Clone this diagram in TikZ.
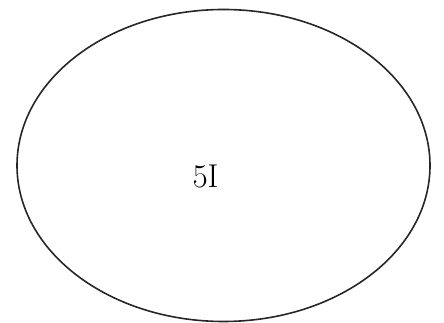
\documentclass[tikz,border=0pt]{standalone}
\usepackage{fontspec}
\usetikzlibrary{shapes.geometric}
\begin{document}
\begin{tikzpicture}[x=1pt,y=1pt,
  oval/.style={draw=black!85,line width=1.6pt,ellipse,minimum width=413pt,minimum height=312pt,inner sep=0pt},
  lbl/.style={font=\fontsize{33}{36}\selectfont,inner sep=0pt}]
\useasboundingbox (0,0) rectangle (444,323);
\node[oval] (e) at (223.5,157.5) {};
\node[lbl] (t) at (205.5,146.5) {5I};
\end{tikzpicture}
\end{document}
